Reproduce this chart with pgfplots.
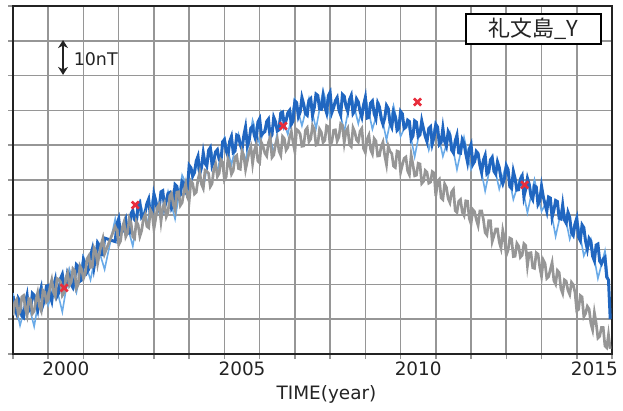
\documentclass[border=0pt]{standalone}
\usepackage{pgfplots}
\pgfplotsset{compat=1.18}
\usepackage{fontspec}
\setmainfont{DejaVu Sans}
\newfontfamily\cjk{Noto Sans CJK JP}
\usetikzlibrary{arrows.meta}
\definecolor{dblue}{RGB}{32,102,192}
\definecolor{lblue}{RGB}{105,170,232}
\definecolor{dgray}{RGB}{150,150,150}
\definecolor{gridc}{RGB}{150,150,150}
\definecolor{axc}{RGB}{35,35,35}
\definecolor{redx}{RGB}{232,45,60}
\begin{document}
\begin{tikzpicture}
\begin{axis}[
  name=ax,
  scale only axis, width=599bp, height=348bp,
  xmin=1999, xmax=2016, ymin=0, ymax=100,
  xtick={1999,2000,...,2016}, xticklabels={},
  ytick={0,10,...,100}, yticklabels={},
  extra x ticks={2000.5,2005.5,2010.5,2015.5},
  extra x tick labels={2000,2005,2010,2015},
  extra x tick style={grid=none, major tick length=0pt},
  xtick pos=bottom, ytick pos=left,
  tick align=outside, major tick length=5bp,
  tick style={color=gridc, line width=1.5bp},
  grid=major,
  major grid style={color=gridc, line width=1.6bp},
  axis line style={color=axc, line width=2bp},
  ticklabel style={font=\fontsize{18.5}{20}\selectfont, color=axc, inner sep=2bp},
  xticklabel style={yshift=-6bp},
  clip=true,
]
\addplot[lblue, line width=1.6bp] coordinates {
(1999.0,17.5)(1999.2,8.2)(1999.4,16.0)(1999.6,7.9)(1999.8,19.6)(2000.0,14.0)(2000.2,20.6)(2000.4,12.1)(2000.6,24.4)(2000.8,17.7)
(2001.0,28.0)(2001.2,21.3)(2001.4,31.1)(2001.6,24.3)(2001.9,38.8)(2002.0,31.7)(2002.2,38.5)(2002.4,31.0)(2002.6,43.7)(2002.8,37.0)
(2003.0,46.5)(2003.2,38.5)(2003.4,46.7)(2003.6,38.8)(2003.8,51.4)(2004.0,47.0)(2004.2,55.2)(2004.4,47.5)(2004.6,59.5)(2004.8,52.5)
(2005.0,62.1)(2005.2,54.4)(2005.4,63.2)(2005.6,55.3)(2005.8,67.2)(2006.0,60.4)(2006.2,66.6)(2006.4,57.7)(2006.6,69.4)(2006.8,63.1)
(2007.0,73.2)(2007.2,65.6)(2007.4,73.5)(2007.6,64.8)(2007.8,75.8)(2008.0,68.0)(2008.2,73.5)(2008.4,63.8)(2008.6,74.5)(2008.8,66.2)
(2009.0,74.2)(2009.2,64.6)(2009.4,71.5)(2009.6,61.5)(2009.8,71.3)(2010.0,62.5)(2010.2,67.0)(2010.4,56.7)(2010.6,67.2)(2010.8,58.6)
(2011.0,66.5)(2011.2,56.8)(2011.4,63.5)(2011.6,53.0)(2011.8,62.3)(2012.0,53.0)(2012.2,57.4)(2012.4,46.8)(2012.6,56.7)(2012.8,47.4)
(2013.0,54.6)(2013.2,44.4)(2013.4,50.8)(2013.6,40.6)(2013.8,50.1)(2014.0,41.0)(2014.2,44.9)(2014.4,33.8)(2014.6,43.0)(2014.8,33.0)
(2015.0,39.5)(2015.2,28.2)(2015.4,33.0)(2015.6,21.7)(2015.8,29.6)(2015.9,20.0)
};
\addplot[dblue, line width=3.0bp] coordinates {
(1999.0,16.6)(1999.05,12.9)(1999.1,11.6)(1999.15,16.0)(1999.2,15.1)(1999.25,11.0)(1999.3,10.5)(1999.35,14.6)(1999.4,16.9)(1999.45,12.4)(1999.5,12.9)(1999.55,17.4)(1999.6,16.9)(1999.65,14.6)(1999.7,12.7)(1999.75,17.1)(1999.8,19.0)(1999.85,14.1)(1999.9,15.7)(1999.95,19.5)
(2000.0,19.7)(2000.05,16.9)(2000.1,15.2)(2000.15,19.4)(2000.2,21.4)(2000.25,16.6)(2000.3,17.6)(2000.35,21.7)(2000.4,22.9)(2000.45,19.5)(2000.5,19.3)(2000.55,23.5)(2000.6,22.6)(2000.65,20.0)(2000.7,19.1)(2000.75,21.4)(2000.8,25.7)(2000.85,25.2)(2000.9,20.9)(2000.95,21.3)
(2001.0,27.1)(2001.05,25.9)(2001.1,23.5)(2001.15,24.4)(2001.2,28.2)(2001.25,30.1)(2001.3,25.0)(2001.35,28.0)(2001.4,32.0)(2001.45,31.2)(2001.5,28.6)(2001.55,28.5)(2001.6,33.3)
(2001.9,32.3)(2001.95,37.4)(2002.0,38.9)(2002.05,34.6)(2002.1,35.1)(2002.15,37.3)(2002.2,38.7)(2002.25,34.7)(2002.3,34.7)(2002.35,40.3)(2002.4,41.3)(2002.45,38.6)(2002.5,38.0)(2002.55,42.8)(2002.6,43.5)(2002.65,39.3)(2002.7,39.9)(2002.75,40.7)(2002.8,43.2)(2002.85,44.5)(2002.9,39.6)(2002.95,40.2)
(2003.0,46.0)(2003.05,44.1)(2003.1,41.1)(2003.15,41.9)(2003.2,46.6)(2003.25,46.9)(2003.3,42.1)(2003.35,43.9)(2003.4,46.1)(2003.45,46.4)(2003.5,42.0)(2003.55,43.1)(2003.6,48.7)(2003.65,48.2)(2003.7,45.0)(2003.75,45.7)(2003.8,49.6)(2003.85,49.1)(2003.9,46.6)(2003.95,47.4)
(2004.0,54.2)(2004.05,53.5)(2004.1,51.1)(2004.15,52.1)(2004.2,55.4)(2004.25,56.8)(2004.3,51.7)(2004.35,53.6)(2004.4,57.8)(2004.45,54.8)(2004.5,54.0)(2004.55,58.5)(2004.6,59.3)(2004.65,54.2)(2004.7,55.6)(2004.75,58.1)(2004.8,58.7)(2004.85,55.9)(2004.9,55.1)(2004.95,61.0)
(2005.0,61.6)(2005.05,58.4)(2005.1,56.9)(2005.15,61.1)(2005.2,62.5)(2005.25,57.9)(2005.3,58.3)(2005.35,62.9)(2005.4,62.6)(2005.45,60.1)(2005.5,58.8)(2005.55,62.7)(2005.6,65.2)(2005.65,59.8)(2005.7,61.2)(2005.75,64.9)(2005.8,65.4)(2005.85,62.8)(2005.9,61.2)(2005.95,66.6)
(2006.0,67.6)(2006.05,62.9)(2006.1,63.5)(2006.15,63.9)(2006.2,66.8)(2006.25,67.5)(2006.3,62.1)(2006.35,63.0)(2006.4,68.0)(2006.45,66.7)(2006.5,64.1)(2006.55,64.4)(2006.6,69.2)(2006.65,69.5)(2006.7,65.8)(2006.75,67.1)(2006.8,69.3)(2006.85,70.0)(2006.9,66.0)(2006.95,67.0)
(2007.0,72.7)(2007.05,72.2)(2007.1,68.2)(2007.15,69.5)(2007.2,73.7)(2007.25,71.8)(2007.3,69.1)(2007.35,68.6)(2007.4,72.9)(2007.45,73.4)(2007.5,68.6)(2007.55,70.8)(2007.6,74.7)(2007.65,74.3)(2007.7,70.4)(2007.75,70.3)(2007.8,74.0)(2007.85,71.0)(2007.9,69.3)(2007.95,74.2)
(2008.0,75.2)(2008.05,69.4)(2008.1,70.8)(2008.15,72.8)(2008.2,73.7)(2008.25,70.1)(2008.3,68.7)(2008.35,74.6)(2008.4,74.1)(2008.45,71.2)(2008.5,69.7)(2008.55,73.1)(2008.6,74.3)(2008.65,69.1)(2008.7,69.9)(2008.75,73.3)(2008.8,72.4)(2008.85,69.7)(2008.9,68.1)(2008.95,71.5)
(2009.0,73.7)(2009.05,67.8)(2009.1,68.0)(2009.15,72.1)(2009.2,72.7)(2009.25,69.1)(2009.3,67.6)(2009.35,72.1)(2009.4,70.9)(2009.45,67.6)(2009.5,66.0)(2009.55,67.8)(2009.6,71.4)(2009.65,70.5)(2009.7,66.4)(2009.75,65.2)(2009.8,69.5)(2009.85,68.1)(2009.9,64.3)(2009.95,64.9)
(2010.0,69.7)(2010.05,69.0)(2010.1,64.8)(2010.15,65.2)(2010.2,67.2)(2010.25,66.8)(2010.3,61.7)(2010.35,62.6)(2010.4,67.0)(2010.45,66.6)(2010.5,62.5)(2010.55,63.0)(2010.6,67.0)(2010.65,64.7)(2010.7,62.5)(2010.75,61.0)(2010.8,64.8)(2010.85,65.3)(2010.9,60.4)(2010.95,62.3)
(2011.0,66.0)(2011.05,65.2)(2011.1,60.2)(2011.15,60.8)(2011.2,64.9)(2011.25,61.1)(2011.3,59.7)(2011.35,63.9)(2011.4,62.9)(2011.45,58.6)(2011.5,57.8)(2011.55,61.2)(2011.6,62.9)(2011.65,57.8)(2011.7,57.7)(2011.75,61.6)(2011.8,60.5)(2011.85,57.6)(2011.9,55.1)(2011.95,58.9)
(2012.0,60.2)(2012.05,54.5)(2012.1,55.3)(2012.15,58.2)(2012.2,57.6)(2012.25,54.3)(2012.3,52.1)(2012.35,55.7)(2012.4,57.1)(2012.45,51.8)(2012.5,52.3)(2012.55,55.8)(2012.6,56.5)(2012.65,52.5)(2012.7,51.7)(2012.75,55.2)(2012.8,53.6)(2012.85,50.4)(2012.9,48.9)(2012.95,50.5)
(2013.0,54.1)(2013.05,53.0)(2013.1,48.1)(2013.15,47.6)(2013.2,52.5)(2013.25,50.4)(2013.3,47.1)(2013.35,47.2)(2013.4,50.2)(2013.45,51.2)(2013.5,45.2)(2013.55,47.3)(2013.6,50.5)(2013.65,48.8)(2013.7,45.4)(2013.75,44.4)(2013.8,48.3)(2013.85,48.0)(2013.9,43.0)(2013.95,44.0)
(2014.0,48.2)(2014.05,45.2)(2014.1,43.0)(2014.15,41.0)(2014.2,45.1)(2014.25,44.8)(2014.3,39.3)(2014.35,41.3)(2014.4,44.1)(2014.45,43.8)(2014.5,39.0)(2014.55,38.8)(2014.6,42.8)(2014.65,38.5)(2014.7,37.6)(2014.75,40.7)(2014.8,39.2)(2014.85,34.9)(2014.9,34.1)(2014.95,37.3)
(2015.0,39.0)(2015.05,33.6)(2015.1,32.6)(2015.15,37.1)(2015.2,36.3)(2015.25,32.4)(2015.3,30.1)(2015.35,33.2)(2015.4,32.4)(2015.45,28.1)(2015.5,26.8)(2015.55,31.3)(2015.6,31.6)(2015.65,26.7)(2015.7,25.9)(2015.75,27.3)(2015.8,27.8)(2015.85,22.1)(2015.9,21.3)(2015.95,10.0)
};
\addplot[dgray, line width=2.7bp] coordinates {
(1999.0,11.1)(1999.05,14.8)(1999.1,15.6)(1999.15,11.3)(1999.2,12.2)(1999.25,16.4)(1999.3,16.8)(1999.35,13.1)(1999.4,11.1)(1999.45,15.9)(1999.5,15.6)(1999.55,11.6)(1999.6,12.3)(1999.65,15.5)(1999.7,17.6)(1999.75,13.7)(1999.8,12.4)(1999.85,18.3)(1999.9,17.8)(1999.95,15.0)
(2000.0,15.7)(2000.05,19.2)(2000.1,21.3)(2000.15,17.8)(2000.2,16.5)(2000.25,21.7)(2000.3,21.4)(2000.35,20.7)(2000.4,16.8)(2000.45,17.6)(2000.5,21.8)(2000.55,23.3)(2000.6,19.7)(2000.65,20.6)(2000.7,24.5)(2000.75,23.9)(2000.8,18.9)(2000.85,20.0)(2000.9,25.3)(2000.95,24.3)
(2001.0,21.7)(2001.05,23.1)(2001.1,27.3)(2001.15,28.2)(2001.2,24.9)(2001.25,25.0)(2001.3,30.5)(2001.35,29.5)(2001.4,25.9)(2001.45,28.7)(2001.5,31.4)(2001.55,33.2)(2001.6,28.8)
(2001.9,36.6)(2001.95,35.5)(2002.0,31.4)(2002.05,32.4)(2002.1,36.3)(2002.15,37.9)(2002.2,33.7)(2002.25,34.8)(2002.3,38.9)(2002.35,37.7)(2002.4,33.7)(2002.45,33.2)(2002.5,38.2)(2002.55,37.1)(2002.6,33.8)(2002.65,35.4)(2002.7,38.8)(2002.75,40.0)(2002.8,36.7)(2002.85,36.3)(2002.9,41.4)(2002.95,40.4)
(2003.0,35.9)(2003.05,39.0)(2003.1,42.2)(2003.15,43.0)(2003.2,38.1)(2003.25,42.2)(2003.3,43.4)(2003.35,39.5)(2003.4,40.8)(2003.45,45.4)(2003.5,46.2)(2003.55,42.9)(2003.6,41.3)(2003.65,46.5)(2003.7,46.6)(2003.75,42.7)(2003.8,43.5)(2003.85,46.7)(2003.9,48.9)(2003.95,45.1)
(2004.0,43.9)(2004.05,49.7)(2004.1,49.0)(2004.15,46.0)(2004.2,46.5)(2004.25,50.1)(2004.3,52.2)(2004.35,48.8)(2004.4,47.6)(2004.45,52.8)(2004.5,52.5)(2004.55,51.9)(2004.6,48.1)(2004.65,49.0)(2004.7,53.2)(2004.75,54.6)(2004.8,51.0)(2004.85,51.9)(2004.9,55.8)(2004.95,55.1)
(2005.0,50.0)(2005.05,50.9)(2005.1,56.0)(2005.15,54.6)(2005.2,51.7)(2005.25,52.7)(2005.3,56.5)(2005.35,57.0)(2005.4,53.3)(2005.45,53.1)(2005.5,58.3)(2005.55,57.0)(2005.6,53.0)(2005.65,55.5)(2005.7,58.0)(2005.75,59.5)(2005.8,54.7)(2005.85,58.4)(2005.9,60.1)(2005.95,55.4)
(2006.0,54.9)(2006.05,60.8)(2006.1,59.6)(2006.15,57.7)(2006.2,56.9)(2006.25,60.8)(2006.3,62.2)(2006.35,56.5)(2006.4,57.2)(2006.45,60.2)(2006.5,61.9)(2006.55,58.3)(2006.6,57.1)(2006.65,62.5)(2006.7,61.9)(2006.75,58.6)(2006.8,59.4)(2006.85,62.3)(2006.9,63.9)(2006.95,60.7)
(2007.0,58.1)(2007.05,64.5)(2007.1,64.1)(2007.15,63.2)(2007.2,59.7)(2007.25,59.8)(2007.3,64.3)(2007.35,65.0)(2007.4,61.0)(2007.45,61.8)(2007.5,65.6)(2007.55,64.6)(2007.6,60.0)(2007.65,60.2)(2007.7,64.6)(2007.75,63.7)(2007.8,60.8)(2007.85,61.4)(2007.9,65.6)(2007.95,65.3)
(2008.0,59.9)(2008.05,61.0)(2008.1,64.3)(2008.15,64.4)(2008.2,61.2)(2008.25,62.4)(2008.3,66.2)(2008.35,65.7)(2008.4,60.7)(2008.45,64.0)(2008.5,64.9)(2008.55,60.2)(2008.6,59.6)(2008.65,65.0)(2008.7,63.8)(2008.75,61.5)(2008.8,60.9)(2008.85,64.0)(2008.9,64.8)(2008.95,59.0)
(2009.0,57.9)(2009.05,61.7)(2009.1,62.9)(2009.15,58.7)(2009.2,57.5)(2009.25,61.9)(2009.3,61.2)(2009.35,56.9)(2009.4,57.0)(2009.45,59.6)(2009.5,60.9)(2009.55,57.0)(2009.6,54.4)(2009.65,59.7)(2009.7,58.2)(2009.75,57.6)(2009.8,54.0)(2009.85,53.6)(2009.9,58.3)(2009.95,58.1)
(2010.0,52.2)(2010.05,54.3)(2010.1,56.2)(2010.15,56.6)(2010.2,52.6)(2010.25,51.5)(2010.3,57.2)(2010.35,54.4)(2010.4,51.2)(2010.45,51.4)(2010.5,54.8)(2010.55,54.6)(2010.6,49.0)(2010.65,49.6)(2010.7,52.7)(2010.75,52.2)(2010.8,49.1)(2010.85,49.4)(2010.9,52.4)(2010.95,52.0)
(2011.0,45.4)(2011.05,49.6)(2011.1,50.2)(2011.15,44.9)(2011.2,44.4)(2011.25,48.9)(2011.3,47.9)(2011.35,44.7)(2011.4,43.5)(2011.45,46.6)(2011.5,47.3)(2011.55,41.2)(2011.6,40.7)(2011.65,43.9)(2011.7,44.4)(2011.75,40.8)(2011.8,39.8)(2011.85,44.0)(2011.9,43.9)(2011.95,38.9)
(2012.0,37.4)(2012.05,41.5)(2012.1,40.9)(2012.15,38.6)(2012.2,36.9)(2012.25,41.1)(2012.3,41.1)(2012.35,38.7)(2012.4,34.9)(2012.45,34.2)(2012.5,38.3)(2012.55,38.3)(2012.6,32.3)(2012.65,34.0)(2012.7,35.9)(2012.75,35.9)(2012.8,32.2)(2012.85,30.4)(2012.9,35.5)(2012.95,33.0)
(2013.0,28.4)(2013.05,29.8)(2013.1,33.3)(2013.15,33.0)(2013.2,28.0)(2013.25,28.1)(2013.3,31.8)(2013.35,31.0)(2013.4,27.8)(2013.45,28.4)(2013.5,31.7)(2013.55,31.2)(2013.6,25.3)(2013.65,29.0)(2013.7,29.1)(2013.75,24.8)(2013.8,24.6)(2013.85,29.1)(2013.9,28.7)(2013.95,25.0)
(2014.0,22.3)(2014.05,27.0)(2014.1,26.0)(2014.15,21.7)(2014.2,22.2)(2014.25,24.3)(2014.3,26.3)(2014.35,21.1)(2014.4,20.1)(2014.45,24.0)(2014.5,23.4)(2014.55,18.8)(2014.6,17.4)(2014.65,21.3)(2014.7,20.9)(2014.75,18.3)(2014.8,17.1)(2014.85,20.6)(2014.9,19.9)(2014.95,17.7)
(2015.0,12.4)(2015.05,12.8)(2015.1,16.8)(2015.15,16.4)(2015.2,10.7)(2015.25,11.6)(2015.3,13.7)(2015.35,12.9)(2015.4,8.8)(2015.45,6.9)(2015.5,11.9)(2015.55,8.9)(2015.6,4.6)(2015.65,5.1)(2015.7,7.6)(2015.75,7.6)(2015.8,2.3)(2015.85,1.8)(2015.9,5.6)(2015.95,1.5)
};
\addplot[only marks, mark=x, mark size=5bp, redx, mark options={line width=2.6bp, solid}] coordinates {
(2000.45,19.0)(2002.47,42.8)(2006.67,65.5)(2010.48,72.4)(2013.52,48.6)
};
\draw[{Stealth[length=8bp,width=10bp]}-{Stealth[length=8bp,width=10bp]}, line width=1.8bp, color=axc]
  (axis cs:2000.42,80.2) -- (axis cs:2000.42,90.2);
\node[anchor=west, inner sep=0pt, font=\fontsize{17.5}{19}\selectfont, color=axc]
  at (axis cs:2000.72,84.8) {10nT};
\node[anchor=north east, draw=black, fill=white, line width=2.2bp,
  minimum width=135bp, minimum height=30bp, inner sep=0pt,
  font=\cjk\fontsize{22}{24}\selectfont, text=axc]
  at ([xshift=-10bp,yshift=-7bp]rel axis cs:1,1) {礼文島\_Y};
\end{axis}
\node[anchor=north, inner sep=0pt, font=\fontsize{18.5}{20}\selectfont, color=axc]
  at ([xshift=14bp,yshift=-31bp]ax.south) {TIME(year)};
\pgfresetboundingbox
\path[use as bounding box] ([xshift=-13bp,yshift=-57bp]ax.south west) rectangle ([xshift=11bp,yshift=6bp]ax.north east);
\end{tikzpicture}
\end{document}
